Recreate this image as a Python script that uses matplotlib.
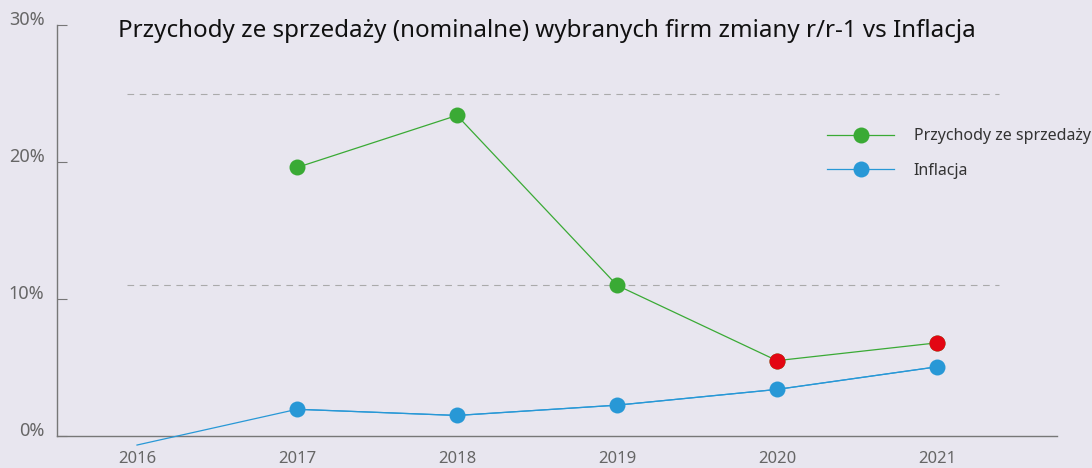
import matplotlib.pyplot as plt

years = [2016, 2017, 2018, 2019, 2020, 2021]
przychody = [None, 19.6, 23.4, 11.0, 5.5, 6.8]
inflacja = [-0.66, 1.95, 1.5, 2.25, 3.4, 5.05]
wyroznione = [2020, 2021]  # points drawn in red
ref_lines = [25.0, 11.0]
y_ticks = [0, 10, 20, 30]

BG = "#e8e6ef"
GREEN = "#3aaa35"
BLUE = "#2898d6"
RED = "#e30613"
GREY = "#666666"

plt.rcParams["font.family"] = ["Noto Sans", "DejaVu Sans"]

fig = plt.figure(figsize=(10.92, 4.68), dpi=100, facecolor=BG)
ax = fig.add_axes([57 / 1092, 32 / 468, 1000 / 1092, 411 / 468], facecolor=BG)

# Dashed helper lines
for y in ref_lines:
    ax.hlines(y, 2015.94, 2021.39, colors="#aaaaaa", linestyles=(0, (6, 5)), linewidth=0.8)

# Revenue series
yrs_p = [yr for yr, v in zip(years, przychody) if v is not None]
vals_p = [v for v in przychody if v is not None]
ax.plot(yrs_p, vals_p, color=GREEN, linewidth=0.9, marker="o", markersize=11.5,
        markeredgewidth=0, label="Przychody ze sprzedaży", zorder=3)
red_vals = [v for yr, v in zip(years, przychody) if yr in wyroznione]
ax.plot(wyroznione, red_vals, linestyle="none", marker="o", markersize=11.5,
        markeredgewidth=0, color=RED, zorder=4)

# Inflation series: first point without marker
ax.plot(years, inflacja, color=BLUE, linewidth=0.9, clip_on=False, zorder=3)
ax.plot(years[1:], inflacja[1:], color=BLUE, linewidth=0.9, marker="o", markersize=11.5,
        markeredgewidth=0, label="Inflacja", zorder=3)

ax.set_xlim(2015.5, 2021.75)
ax.set_ylim(0, 30)

for side in ["top", "right"]:
    ax.spines[side].set_visible(False)
for side in ["left", "bottom"]:
    ax.spines[side].set_color("#777777")
    ax.spines[side].set_linewidth(1)

ax.set_yticks(y_ticks)
ax.set_yticklabels([f"{t}%" for t in y_ticks])
ax.tick_params(axis="y", direction="in", length=7, color="#777777", labelsize=13,
               labelcolor=GREY, pad=9)
for lab in ax.get_yticklabels():
    lab.set_verticalalignment("baseline")
ax.set_xticks(years)
ax.set_xticklabels([str(y) for y in years])
ax.tick_params(axis="x", length=0, labelsize=12, labelcolor=GREY, pad=11)

fig.text(547 / 1092, 1 - 31 / 468, "Przychody ze sprzedaży (nominalne) wybranych firm zmiany r/r-1 vs Inflacja",
         ha="center", va="center", fontsize=17.4, color="#111111")

leg = ax.legend(loc="upper left", bbox_to_anchor=(764 / 1000, 1 - 97 / 411), frameon=False,
                fontsize=11.5, handlelength=4.2, labelspacing=1.15, handletextpad=1.2,
                borderaxespad=0)
for t in leg.get_texts():
    t.set_color("#333333")

fig.savefig("out.png", dpi=100, facecolor=BG)
